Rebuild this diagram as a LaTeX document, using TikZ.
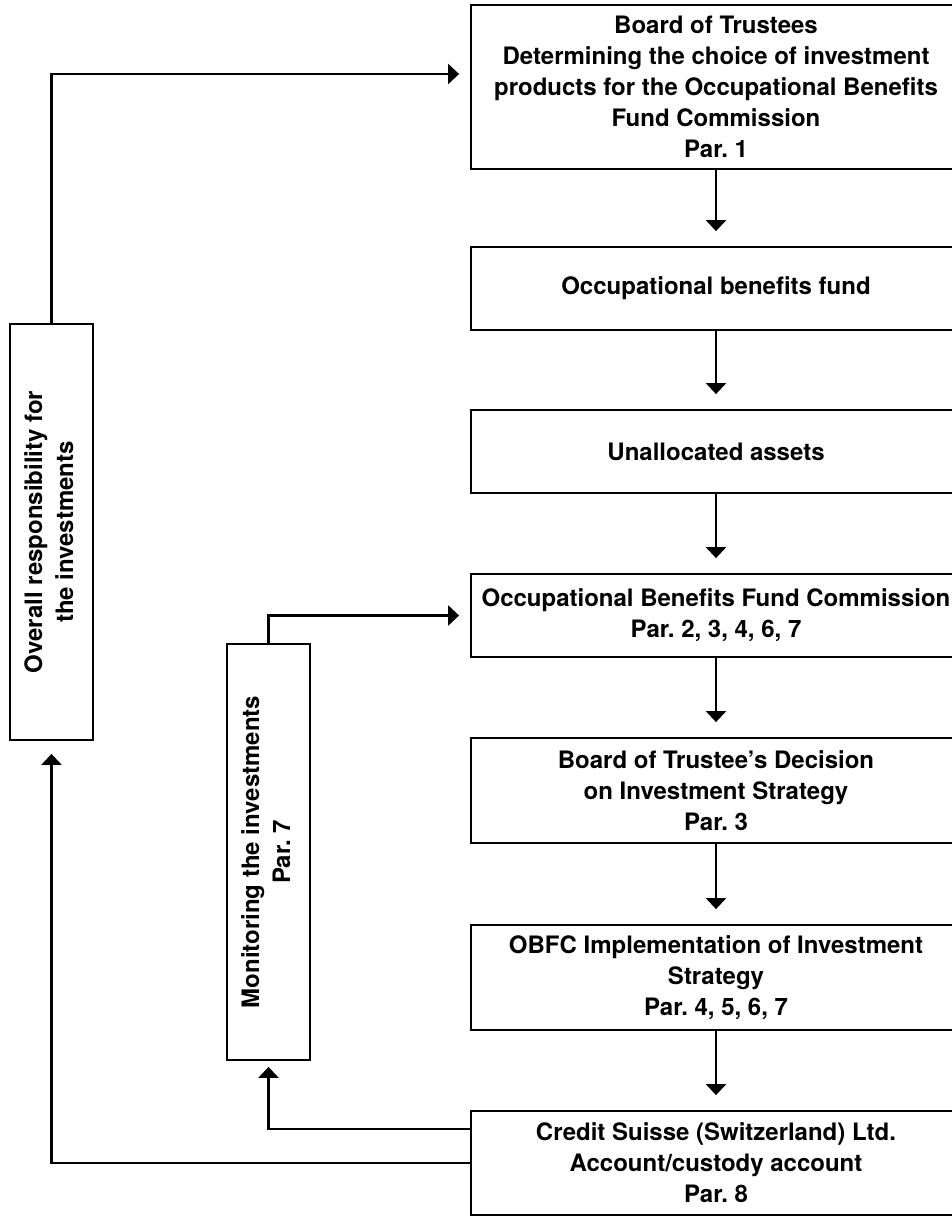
\documentclass[tikz,border=0pt]{standalone}
\usepackage{fontspec}
\usepackage{graphicx}
\setmainfont{TeX Gyre Heros}
\frenchspacing
\usetikzlibrary{arrows.meta}
\tikzset{
  box/.style={draw, line width=1.8pt, minimum width=490pt, inner sep=0pt, align=center,
    font=\fontsize{24}{31}\selectfont\bfseries},
  sidebox/.style={draw, line width=1.8pt, minimum width=83pt, minimum height=416pt, inner sep=0pt,
    font=\fontsize{24}{31}\selectfont\bfseries},
  conn/.style={line width=2.4pt, -{Triangle[length=11pt,width=20pt]}},
}
\begin{document}
\begin{tikzpicture}[x=1pt,y=-1pt]
\useasboundingbox (0,0) rectangle (952,1216);
\clip (0,0) rectangle (952,1216);
\node[box, minimum height=164pt] (b1) at (716,87) {Board of Trustees\\Determining the choice of investment\\products for the Occupational Benefits\\Fund Commission\\Par. 1};
\node[box, minimum height=83pt] (b2) at (716,288.5) {Occupational benefits fund};
\node[box, minimum height=83pt] (b3) at (716,451.5) {Unallocated assets};
\node[box, minimum height=83pt] (b4) at (716,615.5) {Occupational Benefits Fund Commission\\Par. 2, 3, 4, 6, 7};
\node[box, minimum height=105pt] (b5) at (716,790.5) {Board of Trustee’s Decision\\on Investment Strategy\\Par. 3};
\node[box, minimum height=105pt] (b6) at (716,977.5) {OBFC Implementation of Investment\\Strategy\\Par. 4, 5, 6, 7};
\node[box, minimum height=104pt] (b7) at (716,1163) {Credit Suisse (Switzerland) Ltd.\\Account/custody account\\Par. 8};
\node[sidebox] (L1) at (51.5,532) {\rotatebox{90}{\begin{tabular}{@{}c@{}}Overall responsibility for\\the investments\end{tabular}}};
\node[sidebox] (L2) at (268.5,852) {\rotatebox{90}{\begin{tabular}{@{}c@{}}Monitoring the investments\\Par. 7\end{tabular}}};
\draw[conn, shorten >=15pt] (b1) -- (b2);
\draw[conn, shorten >=15pt] (b2) -- (b3);
\draw[conn, shorten >=15pt] (b3) -- (b4);
\draw[conn, shorten >=15pt] (b4) -- (b5);
\draw[conn, shorten >=15pt] (b5) -- (b6);
\draw[conn, shorten >=15pt] (b6) -- (b7);
\draw[conn, shorten >=11pt] (L1.north) |- ([yshift=13pt]b1.west);
\draw[conn, shorten >=11pt] (L2.north) |- (b4.west);
\draw[conn, shorten >=13pt] (b7.west) -| (L1.south);
\draw[conn, shorten >=6pt] ([yshift=34pt]b7.west) -| (L2.south);
\end{tikzpicture}
\end{document}
